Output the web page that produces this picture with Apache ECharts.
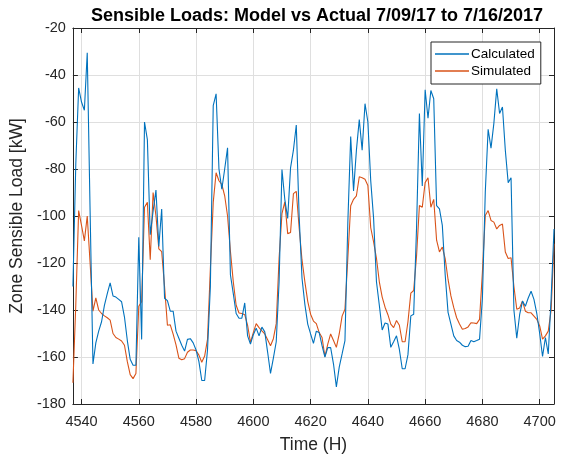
<!DOCTYPE html>
<html>
<head>
<meta charset="utf-8">
<script src="https://cdn.jsdelivr.net/npm/echarts@6/dist/echarts.min.js"></script>
<style>
  html, body { margin: 0; padding: 0; background: #ffffff; }
  #chart { width: 563px; height: 459px; }
</style>
</head>
<body>
<div id="chart"></div>
<script>
// Hourly zone sensible load, hour-of-year 4537 .. 4705
const startHour = 4537;
const endHour = 4705;

// Calculated load from measurements [kW]
const calculated = [
  -130, -78, -45.5, -51.5, -55, -30.5, -98, -163, -154, -149,
  -145, -138, -133, -128.5, -134, -134.5, -135.5, -136.5, -143, -153,
  -161, -163.5, -163.5, -109, -152.5, -60, -67.5, -108, -98, -89,
  -113, -97, -135, -136, -140.5, -140.5, -149, -152, -155, -157.5,
  -152.5, -152.2, -154, -157, -162, -170, -170, -157, -130, -53,
  -48, -80, -88.6, -80, -71, -125, -133, -141.5, -143.5, -143.5,
  -137, -151, -154.5, -150.5, -147.7, -151, -147.3, -149.3, -158, -167,
  -160.5, -153.5, -128, -80.2, -93, -101, -79.5, -72, -61.3, -100,
  -126.5, -137.6, -146, -150.2, -154.2, -149, -149.6, -155.2, -160, -156,
  -156, -163, -172.7, -164.3, -158.7, -153, -103, -66.2, -89.3, -72,
  -59, -72, -52.2, -60, -85, -101, -128, -138, -148.5, -145.5,
  -146, -155.9, -153.5, -151, -156.8, -165, -165, -159, -142.5, -141.8,
  -105, -56.4, -87.2, -46.3, -58.4, -46.6, -50.1, -95.6, -97, -104,
  -125, -141, -146, -151, -153, -153.7, -155, -155.6, -155.4, -153,
  -153.5, -153, -152.4, -135, -90, -63.1, -71.1, -60.6, -45.9, -56.4,
  -53.6, -72, -85.8, -83.7, -140, -152, -142, -136.2, -138.4, -134.9,
  -132, -135.5, -141.5, -150, -159.8, -151.7, -158.7, -135, -105.5
];

// Simulated load from the building model [kW]
const simulated = [
  -171, -138, -97.7, -104, -110.6, -100, -120, -140.5, -134.8, -140,
  -141.5, -142.5, -143.3, -144.3, -150, -151.7, -152.4, -153.2, -155, -162,
  -167.5, -169.2, -167, -138.4, -136.5, -96.3, -94.2, -118.6, -90, -100,
  -114, -115.2, -130, -146.5, -146.3, -150.3, -154.8, -160.5, -161.2, -160.7,
  -158, -157, -157, -157.3, -159.2, -162.2, -159.6, -152.5, -122.3, -94.2,
  -81.6, -85, -86.6, -91.4, -100, -115, -128, -138, -141.3, -141.5,
  -142, -146.5, -153.8, -149.6, -145.8, -147.5, -148.9, -150.2, -152.7, -155.2,
  -152.2, -145.8, -118, -99, -94, -107.5, -107, -90.5, -89.5, -105,
  -118.7, -128, -136.3, -141.8, -144.7, -145.8, -149.6, -151.7, -159.8, -154.5,
  -150.2, -153, -155.9, -150.2, -142.6, -139.7, -118, -95.6, -92.9, -91.4,
  -83.3, -83.7, -84.4, -87, -105, -111, -118, -128, -134.5, -138.8,
  -142, -146, -147.5, -144.5, -146.5, -153.5, -153.5, -145, -132.8, -131.7,
  -117, -95.5, -96.3, -85.8, -83.7, -96.3, -92.9, -110.3, -115.3, -113.2,
  -118.1, -127, -134, -139, -143.3, -146, -148.2, -147.9, -147.2, -145.4,
  -145.5, -145.8, -144, -124, -99.8, -97.7, -101.9, -102.6, -105.5, -104,
  -103.4, -115.3, -118.1, -117.8, -130, -139.7, -139.1, -136.2, -140.5, -141.2,
  -141.2, -142.6, -144, -146.8, -152.4, -151, -149, -140, -111.8
];

// Axis tick positions
const xTicks = [4540, 4560, 4580, 4600, 4620, 4640, 4660, 4680, 4700];
const yMin = -180, yMax = -20, yStep = 20;

const axisColor = '#262626';
const gridColor = '#dfdfdf';
const font = '"Liberation Sans", Arial, Helvetica, sans-serif';

function toPairs(values) {
  return values.map((v, i) => [startHour + i, v]);
}

const chart = echarts.init(document.getElementById('chart'), null, { renderer: 'canvas' });

const xCommon = {
  type: 'value',
  min: startHour,
  max: endHour,
  axisLine: { show: true, onZero: false, lineStyle: { color: axisColor, width: 1 } },
  axisTick: { show: true, inside: true, length: 5, customValues: xTicks, lineStyle: { color: axisColor } }
};
const yCommon = {
  type: 'value',
  min: yMin,
  max: yMax,
  interval: yStep,
  axisLine: { show: true, onZero: false, lineStyle: { color: axisColor, width: 1 } },
  axisTick: { show: true, inside: true, length: 5, lineStyle: { color: axisColor } }
};

chart.setOption({
  animation: false,
  backgroundColor: '#ffffff',
  title: {
    text: 'Sensible Loads: Model vs Actual 7/09/17 to 7/16/2017',
    left: 312,
    top: 2,
    textAlign: 'center',
    textStyle: { fontFamily: font, fontSize: 18, fontWeight: 'bold', color: '#000000' }
  },
  grid: { left: 70, right: 9, top: 28, bottom: 50, containLabel: false },
  legend: {
    orient: 'vertical',
    left: 431,
    top: 42,
    padding: [5, 6, 6, 4],
    itemGap: 3,
    itemWidth: 34,
    itemHeight: 1.4,
    icon: 'rect',
    backgroundColor: '#ffffff',
    borderColor: axisColor,
    borderWidth: 1,
    borderRadius: 0,
    textStyle: { fontFamily: font, fontSize: 13.5, color: '#000000', padding: [0, 0, 0, -3] },
    data: ['Calculated', 'Simulated']
  },
  xAxis: [
    Object.assign({}, xCommon, {
      position: 'bottom',
      name: 'Time (H)',
      nameLocation: 'middle',
      nameGap: 32,
      nameTextStyle: { fontFamily: font, fontSize: 17.5, color: axisColor },
      axisLabel: {
        show: true, customValues: xTicks, margin: 10, color: axisColor,
        fontFamily: font, fontSize: 14.5,
        formatter: (v) => String(v)
      },
      splitLine: { show: true, lineStyle: { color: gridColor, width: 1 } }
    }),
    Object.assign({}, xCommon, {
      position: 'top',
      axisLabel: { show: false },
      splitLine: { show: false }
    })
  ],
  yAxis: [
    Object.assign({}, yCommon, {
      position: 'left',
      name: 'Zone Sensible Load [kW]',
      nameLocation: 'middle',
      nameGap: 41,
      nameTextStyle: { fontFamily: font, fontSize: 17.5, color: axisColor },
      axisLabel: { show: true, margin: 7, color: axisColor, fontFamily: font, fontSize: 14.5 },
      splitLine: { show: true, lineStyle: { color: gridColor, width: 1 } }
    }),
    Object.assign({}, yCommon, {
      position: 'right',
      axisLabel: { show: false },
      splitLine: { show: false }
    })
  ],
  series: [
    {
      name: 'Calculated',
      type: 'line',
      xAxisIndex: 0,
      yAxisIndex: 0,
      data: toPairs(calculated),
      symbol: 'none',
      lineStyle: { color: '#0072BD', width: 1.1 },
      itemStyle: { color: '#0072BD' },
      z: 3
    },
    {
      name: 'Simulated',
      type: 'line',
      xAxisIndex: 0,
      yAxisIndex: 0,
      data: toPairs(simulated),
      symbol: 'none',
      lineStyle: { color: '#D95319', width: 1.1 },
      itemStyle: { color: '#D95319' },
      z: 2
    }
  ]
});
</script>
</body>
</html>
